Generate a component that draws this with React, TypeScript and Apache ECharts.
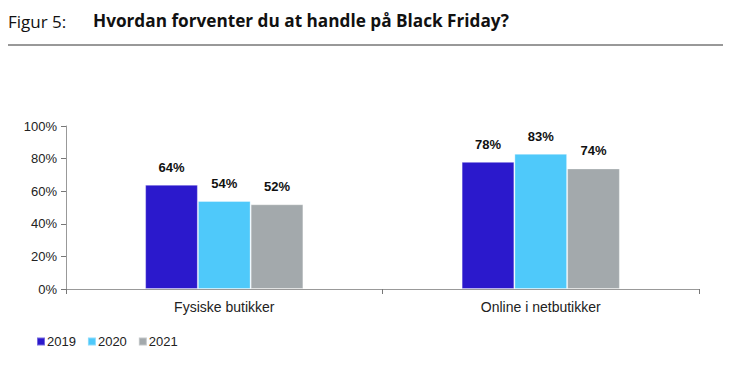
import React, { useEffect, useRef } from "react";
import * as echarts from "echarts";

const categories = ["Fysiske butikker", "Online i netbutikker"];
const years = ["2019", "2020", "2021"];
const values2019 = [64, 78];
const values2020 = [54, 83];
const values2021 = [52, 74];
const yTicks = [0, 20, 40, 60, 80, 100];
const colors = ["#2B19CC", "#4FC9FA", "#A3A9AC"];

export default function App() {
  const ref = useRef<HTMLDivElement>(null);
  useEffect(() => {
    if (!ref.current) return;
    const chart = echarts.init(ref.current, undefined, { renderer: "svg" });
    const seriesData = [values2019, values2020, values2021];
    chart.setOption({
      animation: false,
      textStyle: { fontFamily: "Liberation Sans, Arial, sans-serif" },
      graphic: [
        {
          type: "text",
          left: 8,
          top: 13,
          style: { text: "Figur 5:", fontSize: 17, fontFamily: "Open Sans", fill: "#111" },
        },
        {
          type: "text",
          left: 93,
          top: 12,
          style: {
            text: "Hvordan forventer du at handle på Black Friday?",
            fontSize: 17.2,
            fontWeight: "bold",
            fontFamily: "Open Sans",
            fill: "#111",
          },
        },
        {
          type: "line",
          shape: { x1: 8, y1: 45, x2: 723, y2: 45 },
          style: { stroke: "#333", lineWidth: 1 },
        },
      ],
      legend: {
        left: 31,
        top: 330,
        itemWidth: 8,
        itemHeight: 8,
        itemGap: 11,
        icon: "rect",
        data: years,
        textStyle: { fontSize: 13, color: "#222", padding: [0, 0, 0, -3] },
      },
      grid: { left: 66, right: 47, top: 126, bottom: 84, containLabel: false },
      xAxis: {
        type: "category",
        data: categories,
        axisLine: { lineStyle: { color: "#999" } },
        axisTick: { show: true, length: 5, lineStyle: { color: "#777" } },
        axisLabel: { color: "#222", fontSize: 14, margin: 11 },
      },
      yAxis: {
        type: "value",
        min: yTicks[0],
        max: yTicks[yTicks.length - 1],
        interval: 20,
        axisLine: { show: true, lineStyle: { color: "#999" } },
        axisTick: { show: true, length: 5, lineStyle: { color: "#777" } },
        splitLine: { show: false },
        axisLabel: { color: "#222", fontSize: 13, formatter: "{value}%", margin: 9 },
      },
      series: years.map((y, i) => ({
        name: y,
        type: "bar",
        data: seriesData[i],
        barGap: "0%",
        barCategoryGap: "50%",
        itemStyle: { color: colors[i], borderColor: "rgba(255,255,255,0.35)", borderWidth: 1 },
        label: {
          show: true,
          position: "top",
          distance: 11,
          formatter: "{c}%",
          fontSize: 13,
          fontWeight: "bold",
          color: "#111",
        },
      })),
    });
    return () => chart.dispose();
  }, []);
  return (
    <div
      ref={ref}
      style={{ position: "absolute", left: 0, top: 0, width: 746, height: 373 }}
    />
  );
}
